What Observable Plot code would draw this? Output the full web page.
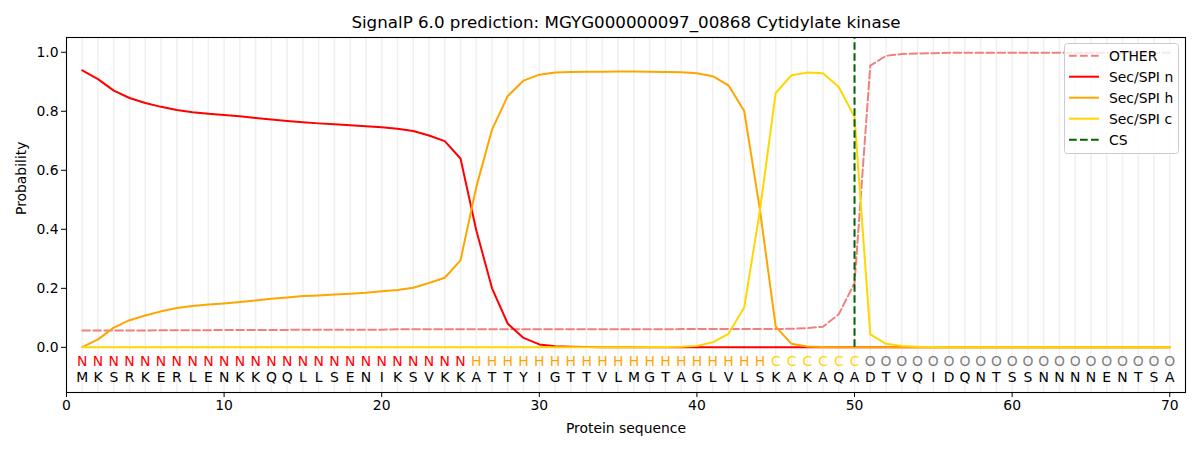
<!DOCTYPE html>
<html><head><meta charset="utf-8">
<script src="https://cdn.jsdelivr.net/npm/d3@7"></script>
<script src="https://cdn.jsdelivr.net/npm/@observablehq/plot@0.6"></script>
<style>
body{margin:0;background:#fff;font-family:"DejaVu Sans",sans-serif;}
#wrap{position:relative;width:1200px;height:450px;}
#legend{position:absolute;left:1064px;top:43px;}
</style>
</head><body>
<div id="wrap"><div id="chart"></div><div id="legend"></div></div>
<script>
const title = "SignalP 6.0 prediction: MGYG000000097_00868 Cytidylate kinase";
const sequence = "MKSRKERLENKKQQLLSENIKSVKKATTYIGTTVLMGTAGLVLSKAKAQADTVQIDQNTSSNNNNENTSA".split("");
const regionLabels = "NNNNNNNNNNNNNNNNNNNNNNNNNHHHHHHHHHHHHHHHHHHHCCCCCCOOOOOOOOOOOOOOOOOOOO".split("");
const labelColors = {N: "red", H: "orange", C: "gold", O: "grey"};
const other = [0.057,0.057,0.057,0.057,0.057,0.058,0.058,0.058,0.058,0.059,
  0.059,0.059,0.059,0.059,0.060,0.060,0.060,0.060,0.060,0.060,
  0.061,0.061,0.061,0.061,0.061,0.061,0.061,0.061,0.061,0.061,
  0.061,0.061,0.061,0.061,0.061,0.061,0.061,0.061,0.062,0.062,
  0.062,0.062,0.062,0.062,0.062,0.063,0.065,0.070,0.112,0.218,
  0.955,0.988,0.994,0.996,0.997,0.998,0.998,0.998,0.998,0.998,
  0.998,0.998,0.998,0.998,0.998,0.998,0.998,0.998,0.998,0.998];
const secN = [0.939,0.909,0.870,0.845,0.828,0.815,0.804,0.797,0.792,0.787,
  0.783,0.777,0.772,0.767,0.763,0.759,0.756,0.753,0.749,0.746,
  0.741,0.733,0.718,0.699,0.640,0.397,0.200,0.080,0.032,0.010,
  0.004,0.002,0.001,0.000,0.000,0.000,0.000,0.000,0.000,0.000,
  0.000,0.000,0.000,0.000,0.000,0.000,0.000,0.000,0.000,0.000,
  0.000,0.000,0.000,0.000,0.000,0.000,0.000,0.000,0.000,0.000,
  0.000,0.000,0.000,0.000,0.000,0.000,0.000,0.000,0.000,0.000];
const secH = [0.001,0.027,0.067,0.092,0.108,0.122,0.133,0.140,0.145,0.149,
  0.154,0.159,0.165,0.169,0.174,0.176,0.179,0.182,0.185,0.190,
  0.194,0.202,0.218,0.236,0.295,0.543,0.738,0.852,0.904,0.924,
  0.931,0.933,0.934,0.934,0.935,0.935,0.934,0.933,0.932,0.929,
  0.919,0.888,0.801,0.465,0.070,0.012,0.003,0.001,0.000,0.000,
  0.000,0.000,0.000,0.000,0.000,0.000,0.000,0.000,0.000,0.000,
  0.000,0.000,0.000,0.000,0.000,0.000,0.000,0.000,0.000,0.000];
const secC = [0.000,0.000,0.000,0.000,0.000,0.000,0.000,0.000,0.000,0.000,
  0.000,0.000,0.000,0.000,0.000,0.000,0.000,0.000,0.000,0.000,
  0.000,0.000,0.000,0.000,0.000,0.000,0.000,0.000,0.000,0.000,
  0.000,0.000,0.000,0.000,0.000,0.000,0.001,0.001,0.002,0.005,
  0.017,0.046,0.135,0.465,0.862,0.922,0.931,0.929,0.882,0.781,
  0.044,0.012,0.005,0.002,0.001,0.000,0.000,0.000,0.000,0.000,
  0.000,0.000,0.000,0.000,0.000,0.000,0.000,0.000,0.000,0.000];
const csPosition = [50];
const xTicks = [0,10,20,30,40,50,60,70];
const yTicks = [0,0.2,0.4,0.6,0.8,1.0];
const legendItems = [
  {name:"OTHER", color:"#F08080", dash:"7.7,3.3"},
  {name:"Sec/SPI n", color:"red", dash:null},
  {name:"Sec/SPI h", color:"orange", dash:null},
  {name:"Sec/SPI c", color:"gold", dash:null},
  {name:"CS", color:"darkgreen", dash:"7.7,3.3"}
];

const yDomain = [-0.153, 1.05];
const rows = sequence.map((aa, i) => ({pos: i + 1, aa, lab: regionLabels[i], other: other[i], n: secN[i], h: secH[i], c: secC[i]}));
const positions = rows.map(d => d.pos);

const chart = Plot.plot({
  width: 1200, height: 450,
  marginLeft: 66, marginRight: 15, marginTop: 37, marginBottom: 58,
  style: {fontFamily: "DejaVu Sans", fontSize: "13.9px", background: "white", overflow: "visible"},
  x: {domain: [0, 71]},
  y: {domain: yDomain},
  color: {type: "identity"},
  marks: [
    Plot.ruleX(positions, {stroke: "#f0f0f0", strokeWidth: 1.5}),
    Plot.line(rows, {x: "pos", y: "other", stroke: "#F08080", strokeWidth: 2, strokeDasharray: "7.7,3.3"}),
    Plot.line(rows, {x: "pos", y: "n", stroke: "red", strokeWidth: 2}),
    Plot.line(rows, {x: "pos", y: "h", stroke: "orange", strokeWidth: 2}),
    Plot.line(rows, {x: "pos", y: "c", stroke: "gold", strokeWidth: 2}),
    Plot.ruleX(csPosition, {y1: 0, y2: yDomain[1], stroke: "darkgreen", strokeWidth: 2, strokeDasharray: "7.7,3.3"}),
    Plot.text(rows, {x: "pos", text: "lab", fill: d => labelColors[d.lab], frameAnchor: "bottom", lineAnchor: "middle", dy: -31}),
    Plot.text(rows, {x: "pos", text: "aa", fill: "black", frameAnchor: "bottom", lineAnchor: "middle", dy: -15}),
    Plot.axisX({ticks: xTicks, tickFormat: d3.format("d"), tickSize: 5, tickPadding: 3, label: null}),
    Plot.axisY({ticks: yTicks, tickFormat: d3.format(".1f"), tickSize: 5, tickPadding: 3, label: null}),
    Plot.frame({stroke: "black", strokeWidth: 1.1}),
    Plot.text([title], {frameAnchor: "top", lineAnchor: "middle", dy: -15, fontSize: 16.7}),
    Plot.text(["Probability"], {frameAnchor: "left", lineAnchor: "middle", rotate: -90, dx: -45}),
    Plot.text(["Protein sequence"], {frameAnchor: "bottom", lineAnchor: "middle", dy: 36})
  ]
});
document.getElementById("chart").appendChild(chart);

// legend
const lw = 115, lh = 111;
const lsvg = d3.select("#legend").append("svg").attr("width", lw).attr("height", lh)
  .style("font-family", "DejaVu Sans").style("font-size", "13.9px");
lsvg.append("rect").attr("x", 0.5).attr("y", 0.5).attr("width", lw - 1).attr("height", lh - 1)
  .attr("rx", 3).attr("fill", "white").attr("fill-opacity", 0.8).attr("stroke", "#cccccc");
legendItems.forEach((it, i) => {
  const y = 12.7 + i * 21;
  lsvg.append("line").attr("x1", 5).attr("x2", 35).attr("y1", y).attr("y2", y)
    .attr("stroke", it.color).attr("stroke-width", 2).attr("stroke-dasharray", it.dash);
  lsvg.append("text").attr("x", 45).attr("y", y).attr("dy", "0.35em").text(it.name);
});
</script>
</body></html>
